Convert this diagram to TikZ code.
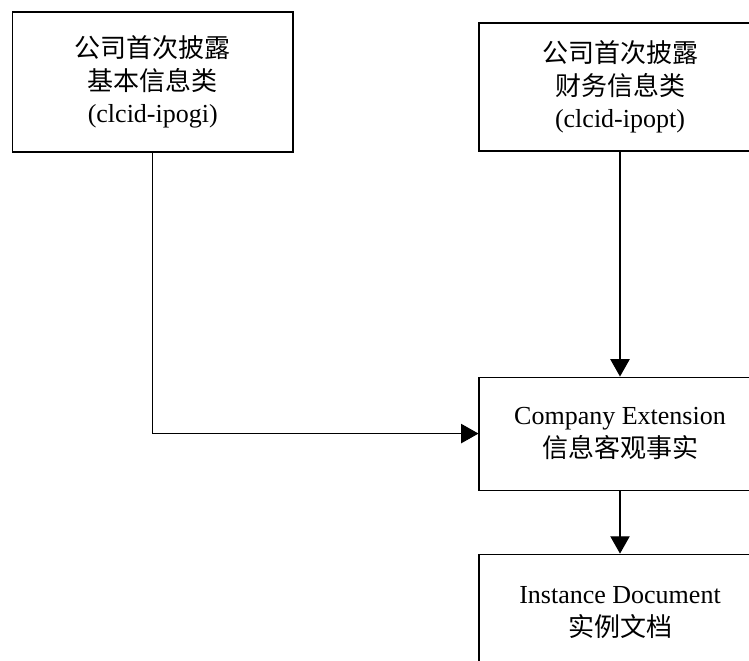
\documentclass[tikz,border=0pt]{standalone}
\usepackage{fontspec}
\setmainfont{Liberation Serif}
\newfontfamily\cjk{Noto Sans CJK SC}
\usetikzlibrary{positioning,arrows.meta}
\tikzset{infobox/.style={draw,rectangle,line width=0.8pt,minimum width=211.5pt,
           align=center,font=\fontsize{19.5}{24.5}\selectfont},
         feed/.style={draw,line width=0.8pt,-{Triangle[length=13pt,width=14.5pt]}},
         node distance=168.75pt}

\begin{document}
\begin{tikzpicture}[x=0.75pt,y=-0.75pt]
  \useasboundingbox (0,0) rectangle (749,660);
  \clip (0,0) rectangle (749,660);
  % top row
  \node[infobox,minimum width=210.4pt,minimum height=105pt] (ipogi) at (152.75,82)
    {{\cjk 公司首次披露}\\{\cjk 基本信息类}\\(clcid-ipogi)};
  \node[infobox,minimum height=96pt] (ipopt) at (620,87)
    {{\cjk 公司首次披露}\\{\cjk 财务信息类}\\(clcid-ipopt)};
  % right column
  \node[infobox,minimum height=84.75pt,below=of ipopt] (ext)
    {Company Extension\\{\cjk 信息客观事实}};
  \node[infobox,minimum height=87.75pt,below=47.25pt of ext] (doc)
    {Instance Document\\{\cjk 实例文档}};
  \draw[feed] (ipopt) -- (ext);
  \draw[feed] (ipogi.south) |- (ext.west);
  \draw[feed] (ext) -- (doc);
\end{tikzpicture}
\end{document}
